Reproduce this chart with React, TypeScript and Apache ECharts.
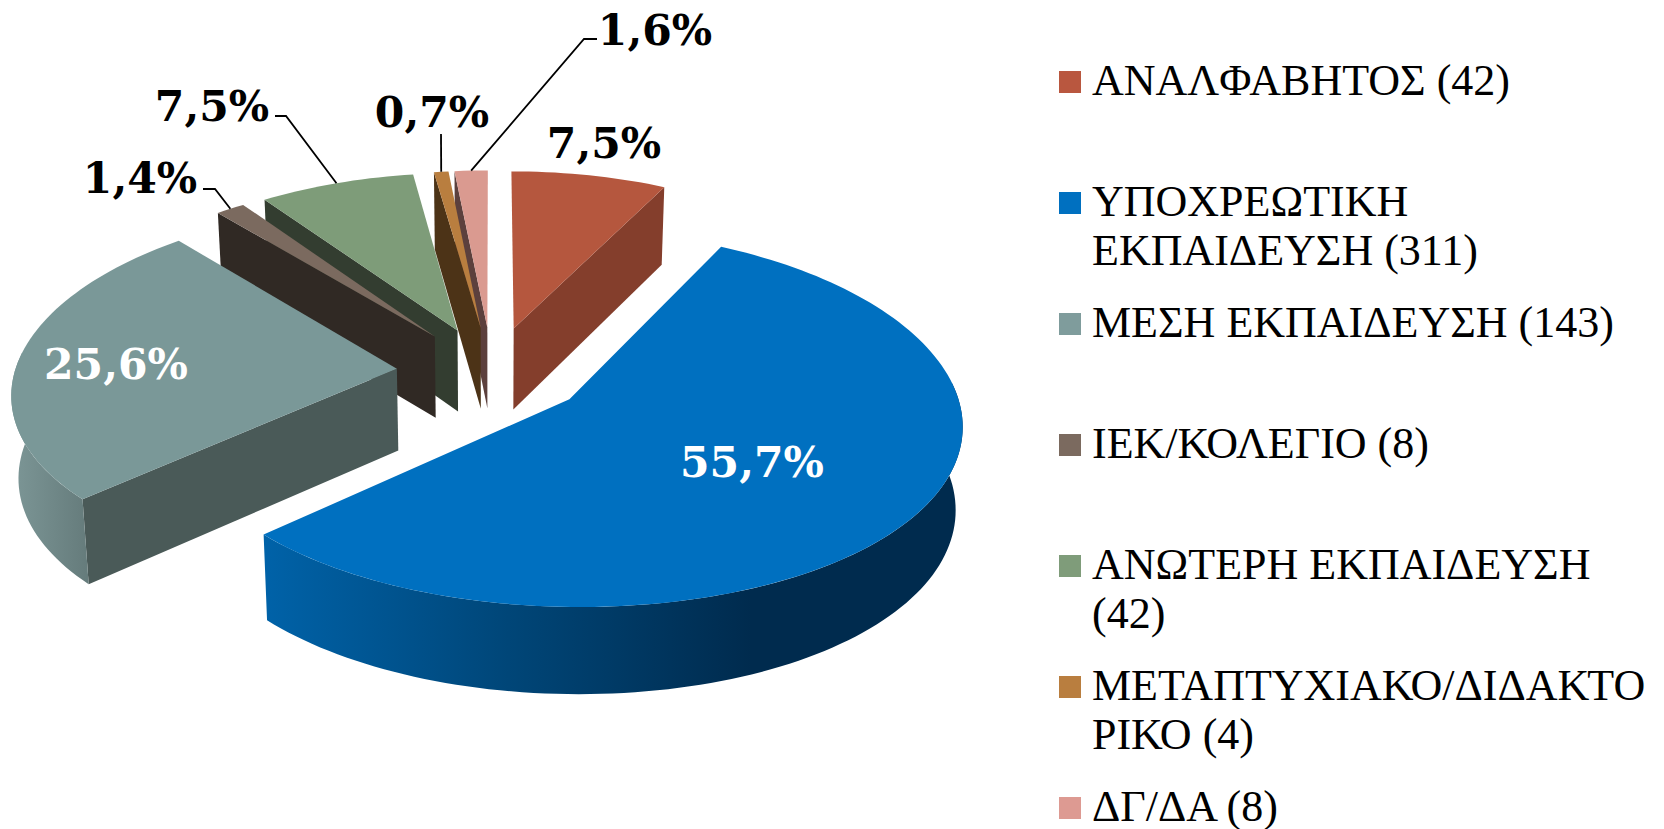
import React, { useEffect, useRef } from "react";
import * as echarts from "echarts";

const categories = ["ΑΝΑΛΦΑΒΗΤΟΣ", "ΥΠΟΧΡΕΩΤΙΚΗ ΕΚΠΑΙΔΕΥΣΗ", "ΜΕΣΗ ΕΚΠΑΙΔΕΥΣΗ", "ΙΕΚ/ΚΟΛΕΓΙΟ", "ΑΝΩΤΕΡΗ ΕΚΠΑΙΔΕΥΣΗ", "ΜΕΤΑΠΤΥΧΙΑΚΟ/ΔΙΔΑΚΤΟΡΙΚΟ", "ΔΓ/ΔΑ"];
const counts = [42, 311, 143, 8, 42, 4, 8];
const percents = [7.5, 55.7, 25.6, 1.4, 7.5, 0.7, 1.6];
const percentLabels = ["7,5%", "55,7%", "25,6%", "1,4%", "7,5%", "0,7%", "1,6%"];
const legendLines = [
  ["ΑΝΑΛΦΑΒΗΤΟΣ (42)"],
  ["ΥΠΟΧΡΕΩΤΙΚΗ", "ΕΚΠΑΙΔΕΥΣΗ (311)"],
  ["ΜΕΣΗ ΕΚΠΑΙΔΕΥΣΗ (143)"],
  ["ΙΕΚ/ΚΟΛΕΓΙΟ (8)"],
  ["ΑΝΩΤΕΡΗ ΕΚΠΑΙΔΕΥΣΗ", "(42)"],
  ["ΜΕΤΑΠΤΥΧΙΑΚΟ/ΔΙΔΑΚΤΟ", "ΡΙΚΟ (4)"],
  ["ΔΓ/ΔΑ (8)"],
];
const topColors = ["#B5573E", "#0070C0", "#7A9898", "#7B6A5F", "#7E9C79", "#B97E3F", "#DA9A90"];
const wallColors = ["#843E2C", "#00365F", "#4A5A58", "#302924", "#333D30", "#4C3317", "#5C403D"];
const legendColors = ["#B9573F", "#0070C0", "#7F9C9C", "#7B6A5F", "#7F9C7A", "#B97E3F", "#DD9A92"];
const drawOrder = [5, 6, 4, 3, 0, 2, 1]; // painter's position per slice

// label centres and leader bends (layout)
const labelPos = [[604, 143], [752, 462], [116, 364], [140, 178], [212, 106], [432, 112], [655, 30]];
const labelColor = ["#000", "#fff", "#fff", "#000", "#000", "#000", "#000"];
const leaderBends: (number[][] | null)[] = [null, null, null, [[203, 189], [215, 189]], [[275, 116], [286, 116]], [[441, 134]], [[597, 39], [584, 39]]];

// projection of the tilted pie
const CX = 492, CY = 371.5, AX = 382, BY = 181, PERSP_Y = 0.1, PERSP_X = 0.12, EXPLODE = 0.25, THICK = 82, FLOOR_SCALE = 0.985;
const total = percents.reduce((a, b) => a + b, 0);
const RAD = Math.PI / 180;

function project(X: number, Z: number) {
  const wy = 1 + PERSP_Y * Z;
  const wx = 1 + PERSP_X * Z;
  return { x: CX + (AX * X) / wx, y: CY - (BY * Z) / wy, t: THICK / Math.sqrt(wy) };
}
function below(p: { x: number; y: number; t: number }) {
  return [CX + (p.x - CX) * FLOOR_SCALE, p.y + p.t];
}
function sliceAngles(i: number) {
  const before = percents.slice(0, i).reduce((a, b) => a + b, 0);
  return [(before / total) * 360, ((before + percents[i]) / total) * 360];
}
function apexOf(i: number) {
  const [a, b] = sliceAngles(i);
  const m = ((a + b) / 2) * RAD;
  return [EXPLODE * Math.sin(m), EXPLODE * Math.cos(m)];
}
function rimPoint(i: number, deg: number) {
  const [ax, az] = apexOf(i);
  return project(ax + Math.sin(deg * RAD), az + Math.cos(deg * RAD));
}
function arc(i: number, from: number, to: number) {
  const n = Math.max(2, Math.ceil(Math.abs(to - from) / 1.5));
  const out = [];
  for (let k = 0; k <= n; k++) out.push(rimPoint(i, from + ((to - from) * k) / n));
  return out;
}
function wallVisible(i: number, deg: number, inner: number) {
  const [ax, az] = apexOf(i);
  const A = project(ax, az);
  const E = rimPoint(i, deg);
  const M = rimPoint(i, inner);
  const dx = E.x - A.x;
  if (Math.abs(dx) < 4) return false;
  const lineY = A.y + ((E.y - A.y) * (M.x - A.x)) / dx;
  return M.y < lineY;
}
function rimFill(i: number): any {
  if (i === 1) {
    return new echarts.graphic.LinearGradient(265, 0, 960, 0, [
      { offset: 0, color: "#0062A8" },
      { offset: 0.35, color: "#004678" },
      { offset: 0.7, color: "#002B4E" },
      { offset: 1, color: "#002B4E" },
    ], true);
  }
  if (i === 2) {
    return new echarts.graphic.LinearGradient(13, 0, 92, 0, [
      { offset: 0, color: "#7C9696" },
      { offset: 1, color: "#647A7A" },
    ], true);
  }
  return wallColors[i];
}

function renderSlice(_params: any, api: any) {
  const i = api.value(0) as number;
  const [a, b] = sliceAngles(i);
  const [ax, az] = apexOf(i);
  const A = project(ax, az);
  const z = drawOrder[i] * 10;
  const children: any[] = [];
  const wall = (deg: number, inner: number, zz: number) => {
    if (!wallVisible(i, deg, inner)) return;
    const E = rimPoint(i, deg);
    children.push({
      type: "polygon",
      z2: z + zz,
      shape: { points: [[A.x, A.y], [E.x, E.y], below(E), below(A)] },
      style: { fill: wallColors[i] },
      silent: true,
    });
  };
  wall(a, a + 0.5, 0);
  wall(b, b - 0.5, 0);
  const r0 = Math.max(a, 85), r1 = Math.min(b, 275);
  if (r1 > r0) {
    const top = arc(i, r0, r1);
    const pts = top.map((p) => [p.x, p.y]).concat(top.slice().reverse().map((p) => below(p)));
    children.push({ type: "polygon", z2: z + 1, shape: { points: pts }, style: { fill: rimFill(i) }, silent: true });
  }
  const topPts = [[A.x, A.y]].concat(arc(i, a, b).map((p) => [p.x, p.y]));
  children.push({ type: "polygon", z2: z + 2, shape: { points: topPts }, style: { fill: topColors[i] }, silent: true });
  return { type: "group", children };
}

function buildGraphics() {
  const els: any[] = [];
  percentLabels.forEach((label, i) => {
    const bend = leaderBends[i];
    if (bend) {
      const [s, e] = sliceAngles(i);
      const end = rimPoint(i, (s + e) / 2);
      els.push({
        type: "polyline",
        z: 50,
        shape: { points: bend.concat([[end.x, end.y]]) },
        style: { stroke: "#000", lineWidth: 1.8, fill: null },
      });
    }
    els.push({
      type: "text",
      z: 60,
      x: labelPos[i][0],
      y: labelPos[i][1],
      style: {
        text: label,
        fill: labelColor[i],
        font: 'bold 42.5px "DejaVu Serif"',
        align: "center",
        verticalAlign: "middle",
      },
    });
  });
  legendLines.forEach((lines, i) => {
    const yc = 82 + 121 * i;
    els.push({ type: "rect", z: 60, shape: { x: 1059, y: yc - 11, width: 22, height: 22 }, style: { fill: legendColors[i] } });
    lines.forEach((ln, k) => {
      els.push({
        type: "text",
        z: 60,
        x: 1092,
        y: yc - 2 + k * 49,
        style: { text: ln, fill: "#000", font: '44px "Liberation Serif"', align: "left", verticalAlign: "middle" },
      });
    });
  });
  return els;
}

export default function App() {
  const ref = useRef<HTMLDivElement>(null);
  useEffect(() => {
    const chart = echarts.init(ref.current!, undefined, { renderer: "svg" });
    chart.setOption({
      animation: false,
      backgroundColor: "#fff",
      series: [
        {
          type: "custom",
          name: "Εκπαίδευση",
          coordinateSystem: "none",
          renderItem: renderSlice,
          data: categories.map((c, i) => ({ name: c, value: [i, percents[i], counts[i]] })),
          silent: true,
        },
      ],
      graphic: { elements: buildGraphics() },
    });
    return () => chart.dispose();
  }, []);
  return <div ref={ref} style={{ position: "absolute", left: 0, top: 0, width: 1664, height: 829 }} />;
}
